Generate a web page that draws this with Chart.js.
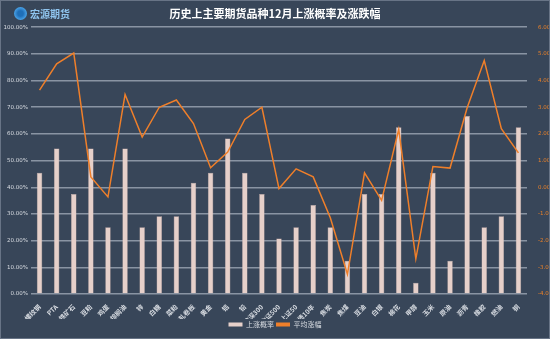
<!DOCTYPE html>
<html>
<head>
<meta charset="utf-8">
<script src="https://cdn.jsdelivr.net/npm/chart.js@4/dist/chart.umd.min.js"></script>
<style>
html,body{margin:0;padding:0;background:#384659;}
#wrap{position:relative;width:548px;height:337px;border:1px solid #687486;background:#384659;}
canvas{display:block;}
#logo{position:absolute;left:13px;top:5px;height:14px;display:flex;align-items:center;font-family:"Noto Sans CJK SC";font-size:10px;font-weight:bold;color:#8fc4ee;}
#logo .c{width:13px;height:13px;border-radius:50%;background:radial-gradient(circle,#1f6fb8 30%,#4aa3e8 70%);margin-right:3px;}
</style>
</head>
<body>
<div id="wrap">
<canvas id="c" width="548" height="337"></canvas>
<div id="logo"><div class="c"></div><span>宏源期货</span></div>
</div>
<script>
const categories = ["螺纹钢","PTA","铁矿石","豆粕","鸡蛋","棕榈油","锌","白糖","菜粕","热轧卷板","黄金","铝","铅","沪深300","中证500","上证50","国债10年","焦炭","焦煤","豆油","白银","棉花","甲醇","玉米","原油","沥青","橡胶","燃油","铜"];
const upProbability = [45.45,54.55,37.5,54.55,25,54.55,25,29.17,29.17,41.67,45.45,58.33,45.45,37.5,20.83,25,33.33,25,12.5,37.5,37.5,62.5,4.17,45.45,12.5,66.67,25,29.17,62.5];
const avgChange = [3.64,4.63,5.03,0.39,-0.36,3.48,1.88,3.0,3.27,2.39,0.73,1.32,2.54,3.0,-0.05,0.69,0.39,-1.14,-3.26,0.54,-0.49,2.17,-2.68,0.78,0.72,2.98,4.75,2.2,1.29];
const leftTicks = ["0.00%","10.00%","20.00%","30.00%","40.00%","50.00%","60.00%","70.00%","80.00%","90.00%","100.00%"];
const rightTicks = ["-4.00%","-3.00%","-2.00%","-1.00%","0.00%","1.00%","2.00%","3.00%","4.00%","5.00%","6.00%"];

new Chart(document.getElementById('c'), {
  data: {
    labels: categories,
    datasets: [
      {type:'line', label:'平均涨幅', data: avgChange, yAxisID:'y1', borderColor:'#ef7f2a', backgroundColor:'#ef7f2a', borderWidth:1.5, pointRadius:0, tension:0, order:0},
      {type:'bar', label:'上涨概率', data: upProbability, yAxisID:'y', backgroundColor:'#e6d0ca', borderColor:'#c9b0aa', borderWidth:0.5, barPercentage:0.32, categoryPercentage:1, order:1}
    ]
  },
  options: {
    responsive:false, animation:false,
    layout:{padding:{left:0,right:0,top:0,bottom:0}},
    plugins:{
      title:{display:true, text:'历史上主要期货品种12月上涨概率及涨跌幅', color:'#ffffff', font:{family:'"Noto Sans CJK SC"', size:11, weight:'bold'}, padding:{top:6,bottom:7}},
      legend:{position:'bottom', labels:{color:'#d8dce2', font:{family:'"Noto Sans CJK SC"', size:7}, boxWidth:14, boxHeight:4, padding:2,
        generateLabels(chart){
          return [
            {text:'上涨概率', fillStyle:'#e6d0ca', strokeStyle:'#e6d0ca', lineWidth:0, fontColor:'#d8dce2', datasetIndex:1},
            {text:'平均涨幅', fillStyle:'#ef7f2a', strokeStyle:'#ef7f2a', lineWidth:0, fontColor:'#d8dce2', datasetIndex:0}
          ];
        }}},
      tooltip:{enabled:false}
    },
    scales:{
      x:{grid:{display:false}, border:{display:false},
         ticks:{color:'#d8dce2', font:{family:'"Noto Sans CJK SC"', size:6.5, weight:'bold'}, minRotation:45, maxRotation:45, autoSkip:false, padding:1},
         afterFit(s){s.height=25;}},
      y:{position:'left', min:0, max:100, afterFit(s){s.width=30;},
         grid:{color:'#8994a3', lineWidth:1.5, drawTicks:false}, border:{display:false},
         ticks:{stepSize:10, color:'#d8dce2', font:{family:'"DejaVu Sans"', size:5.5}, padding:3, callback:(v,i)=>leftTicks[i]}},
      y1:{position:'right', min:-4, max:6, afterFit(s){s.width=22;},
         grid:{display:false}, border:{display:false},
         ticks:{stepSize:1, color:'#e8802a', font:{family:'"DejaVu Sans"', size:5.5}, padding:3, callback:(v,i)=>rightTicks[i]}}
    }
  }
});
</script>
</body>
</html>
